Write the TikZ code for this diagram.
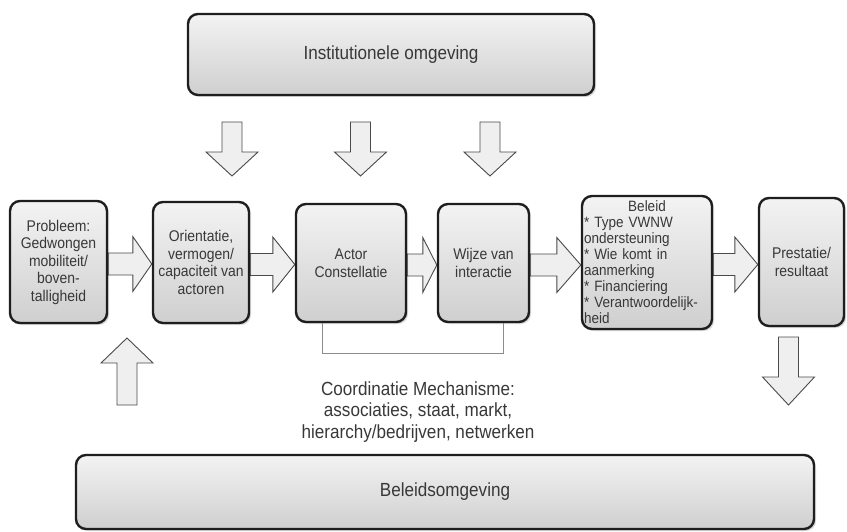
\documentclass[tikz,border=0pt]{standalone}
\usepackage{fontspec}
\setmainfont[FakeStretch=0.9]{Liberation Sans}
\usetikzlibrary{calc,shadows,backgrounds}

\definecolor{ink}{HTML}{383838}
\definecolor{frame}{HTML}{1E1E1E}
\definecolor{boxtop}{HTML}{F3F3F3}
\definecolor{boxbot}{HTML}{CFCFCF}
\definecolor{arrowfill}{HTML}{EFEFEF}
\definecolor{arrowline}{HTML}{4A4A4A}
\definecolor{bracketline}{HTML}{8C8C8C}

\tikzset{
  panel/.style={draw=frame, line width=2.4pt, rounded corners=10pt,
    top color=boxtop, bottom color=boxbot,
    drop shadow={shadow xshift=2pt, shadow yshift=-2pt, opacity=0.15, fill=black},
    text=ink, align=center, inner sep=2pt},
  boxlabel/.style={font=\fontsize{15.5}{17.5}\selectfont},
  listlabel/.style={font=\fontsize{15}{16}\selectfont},
  biglabel/.style={font=\fontsize{19}{21.5}\selectfont},
  blockarrow/.style={draw=arrowline, fill=arrowfill, line width=0.9pt, line join=miter},
  bracket/.style={draw=bracketline, line width=1pt},
}

% horizontal block arrow from the east side of #1 to the west side of #2, head length #3
\newcommand{\flowarrow}[3]{%
  \path[blockarrow] let \p1=(#1.east), \p2=(#2.west) in
    (\x1,\y1-2pt+11pt) -- (\x2-#3,\y1-2pt+11pt) -- (\x2-#3,\y1-2pt+27.5pt)
    -- (\x2,\y1-2pt) -- (\x2-#3,\y1-2pt-27.5pt) -- (\x2-#3,\y1-2pt-11pt)
    -- (\x1,\y1-2pt-11pt) -- cycle;}

% vertical block arrow: centre x #1, shaft end #2, head base #3, tip #4
\newcommand{\vertarrow}[4]{%
  \path[blockarrow] (#1-10,#2) -- (#1+10,#2) -- (#1+10,#3) -- (#1+26,#3)
    -- (#1,#4) -- (#1-26,#3) -- (#1-10,#3) -- cycle;}

\begin{document}
\begin{tikzpicture}[x=1pt, y=-1pt]
  \useasboundingbox (0,0) rectangle (847,532);

  % surrounding environments
  \node[panel, biglabel, minimum width=406pt, minimum height=81pt] (inst) at (391,54.5)
    {Institutionele omgeving};
  \node[panel, biglabel, minimum width=738pt, minimum height=74pt] (bomg) at (445,492)
    {Beleidsomgeving};

  % main chain
  \node[panel, boxlabel, minimum width=97pt, minimum height=122pt] (prob) at (58.5,262)
    {Probleem:\\Gedwongen\\mobiliteit/\\boven-\\talligheid};
  \node[panel, boxlabel, minimum width=96pt, minimum height=121pt] (ori) at (201,262.5)
    {Orientatie,\\vermogen/\\capaciteit van\\actoren};
  \node[panel, boxlabel, minimum width=110pt, minimum height=118pt] (actor) at (351,263)
    {Actor\\Constellatie};
  \node[panel, boxlabel, minimum width=91pt, minimum height=118pt] (wijze) at (483.5,263)
    {Wijze van\\interactie};
  \node[panel, listlabel, align=left, text width=126pt, inner xsep=2pt,
        minimum width=130pt, minimum height=133pt] (beleid) at (647,262.5)
    {\makebox[126pt]{Beleid}\\{*} Type VWNW\\ondersteuning\\{*} Wie komt in\\aanmerking\\{*} Financiering\\{*} Verantwoordelijk-\\heid};
  \node[panel, boxlabel, minimum width=85pt, minimum height=128pt] (prest) at (801.5,262)
    {Prestatie/\\resultaat};

  % coordination mechanism
  \node[biglabel, text=ink, align=center] (mech) at (418,412)
    {Coordinatie Mechanisme:\\associaties, staat, markt,\\hierarchy/bedrijven, netwerken};

  \begin{scope}[on background layer]
    \flowarrow{prob}{ori}{19}
    \flowarrow{ori}{actor}{22}
    \flowarrow{actor}{wijze}{14}
    \flowarrow{wijze}{beleid}{24}
    \flowarrow{beleid}{prest}{23}
  \end{scope}

  % influence of the institutional environment
  \vertarrow{232}{122}{152}{176}
  \vertarrow{360.5}{122}{152}{176}
  \vertarrow{490}{122}{152}{176}

  % feedback from and to the policy environment
  \vertarrow{127}{405}{363}{338}
  \vertarrow{788.5}{337}{377}{405}

  % bracket joining actor constellation and mode of interaction
  \draw[bracket] ([xshift=-29pt]actor.south) -- ++(0,30) -| ([xshift=19.5pt]wijze.south);
\end{tikzpicture}
\end{document}
